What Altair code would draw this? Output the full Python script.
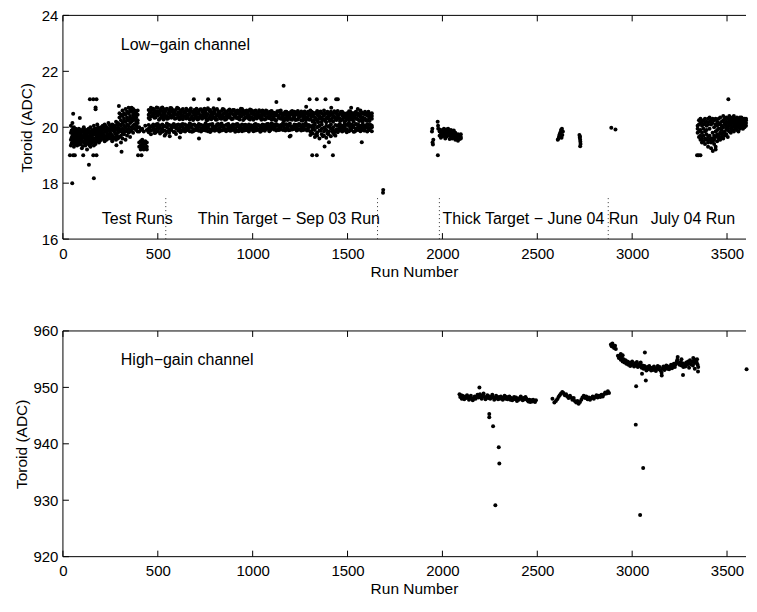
import altair as alt
import pandas as pd

FONT = "Liberation Sans"

# ---------------- axis tick values ----------------
x_ticks = [0, 500, 1000, 1500, 2000, 2500, 3000, 3500]
low_ticks = [16, 18, 20, 22, 24]
high_ticks = [920, 930, 940, 950, 960]

# ---------------- Low-gain channel ----------------
test_run = [42, 50, 58, 66, 75, 84, 92, 100, 110, 118, 127, 136, 145, 154, 163,
            172, 181, 190, 200, 210, 220, 230, 240, 250, 260, 270, 280, 290]
test_adc = [(19.55, 19.8, 20.05, 19.35), (19.7, 19.45, 20.15, 19.9), (19.6, 19.3, 19.85, 20.0),
            (19.75, 19.5, 19.95, 19.4), (19.65, 19.85, 19.35, 19.55), (19.5, 19.8, 19.7, 19.95),
            (19.6, 19.4, 19.9, 19.75), (19.7, 19.55, 19.25, 19.85), (19.8, 19.45, 19.65, 20.0),
            (19.6, 19.35, 19.9, 19.75), (19.55, 19.8, 19.2, 19.7), (19.65, 19.95, 19.4, 19.85),
            (19.75, 19.5, 19.3, 20.0), (19.7, 19.9, 19.45, 19.6), (19.85, 19.55, 19.35, 20.05),
            (19.8, 19.6, 19.95, 19.4), (19.7, 19.9, 19.5, 20.1), (19.85, 19.6, 19.95, 19.45),
            (19.75, 20.0, 19.55, 19.9), (19.8, 19.6, 20.05, 19.7), (19.9, 19.65, 19.5, 20.1),
            (19.85, 19.7, 20.0, 19.55), (19.95, 19.75, 20.15, 19.6), (19.8, 20.05, 19.65, 19.9),
            (19.95, 19.7, 20.1, 19.5), (19.85, 20.05, 19.6, 19.95), (19.9, 20.2, 19.75, 19.55),
            (20.0, 19.8, 20.15, 19.6)]
test_mid_run = [46, 54, 62, 70, 79, 88, 96, 105, 114, 122, 131, 140, 149, 158, 167, 176, 185,
                195, 205, 215, 225, 235, 245, 255, 265, 275, 285]
test_mid_adc = [(19.62, 19.88, 19.42), (19.78, 19.52, 19.97), (19.68, 19.41, 19.83),
                (19.57, 19.93, 19.72), (19.81, 19.46, 19.63), (19.67, 19.38, 19.9),
                (19.84, 19.58, 19.47), (19.63, 19.92, 19.33), (19.72, 19.51, 19.87),
                (19.83, 19.62, 19.44), (19.69, 19.48, 19.92), (19.58, 19.79, 19.36),
                (19.86, 19.64, 19.43), (19.61, 19.81, 19.53), (19.74, 19.95, 19.47),
                (19.66, 19.87, 19.52), (19.78, 19.58, 20.0), (19.88, 19.69, 19.52),
                (19.64, 19.93, 19.81), (19.73, 19.97, 19.58), (19.83, 19.61, 20.04),
                (19.76, 19.94, 19.63), (19.87, 19.68, 20.08), (19.74, 19.97, 19.58),
                (19.89, 20.07, 19.66), (19.78, 19.99, 19.62), (19.93, 19.7, 20.1)]

ramp_run = [298, 306, 314, 322, 330, 338, 346, 354, 362, 370, 378, 386, 394]
ramp_adc = [(20.1, 20.35, 19.85, 19.65, 20.5, 19.95), (20.25, 20.45, 19.9, 19.7, 20.05, 19.45),
            (20.4, 20.15, 20.6, 19.8, 19.95, 19.6), (20.3, 20.5, 20.05, 19.75, 19.9, 20.2),
            (20.45, 20.2, 20.65, 19.85, 20.0, 19.55), (20.35, 20.55, 20.1, 19.9, 19.7, 20.25),
            (20.5, 20.25, 20.7, 19.95, 19.8, 20.05), (20.4, 20.6, 20.15, 19.85, 20.3, 19.65),
            (20.55, 20.3, 20.7, 20.0, 19.9, 20.2), (20.45, 20.65, 20.25, 20.05, 19.8, 20.35),
            (20.5, 20.3, 20.6, 20.1, 19.95, 20.4), (20.35, 20.55, 20.2, 19.9, 20.05, 20.45),
            (20.45, 20.25, 20.6, 20.0, 19.85, 20.15)]

dip_run = [402, 410, 418, 426, 434, 442]
dip_adc = [(19.45, 19.3, 19.85, 20.0), (19.35, 19.5, 19.2, 19.9), (19.4, 19.25, 19.55, 19.95),
           (19.3, 19.45, 19.2, 19.85), (19.4, 19.25, 19.5, 20.05), (19.3, 19.2, 19.45, 19.9)]

thin_run = [452, 464, 476, 488, 500, 512, 524, 536, 548, 560, 572, 584, 596, 608, 620, 632, 644,
            656, 668, 680, 692, 704, 716, 728, 740, 752, 764, 776, 788, 800, 812, 824, 836, 848,
            860, 872, 884, 896, 908, 920, 932, 944, 956, 968, 980, 992, 1004, 1016, 1028, 1040,
            1052, 1064, 1076, 1088, 1100, 1112, 1124, 1136, 1148, 1160, 1172, 1184, 1196, 1208,
            1220, 1232, 1244, 1256, 1268, 1280, 1292, 1304, 1316, 1328, 1340, 1352, 1364, 1376,
            1388, 1400, 1412, 1424, 1436, 1448, 1460, 1472, 1484, 1496, 1508, 1520, 1532, 1544,
            1556, 1568, 1580, 1592, 1604, 1616, 1628]
thin_hi = [(20.45, 20.62, 20.33), (20.55, 20.38, 20.7), (20.4, 20.66, 20.5), (20.58, 20.35, 20.47),
           (20.42, 20.69, 20.55), (20.6, 20.31, 20.48), (20.37, 20.57, 20.71), (20.52, 20.44, 20.64),
           (20.66, 20.4, 20.3), (20.48, 20.61, 20.36), (20.55, 20.34, 20.68), (20.42, 20.58, 20.5),
           (20.63, 20.46, 20.32), (20.38, 20.54, 20.67), (20.5, 20.35, 20.6), (20.44, 20.65, 20.29),
           (20.57, 20.4, 20.52), (20.35, 20.6, 20.45), (20.48, 20.28, 20.62), (20.4, 20.55, 20.33),
           (20.62, 20.45, 20.3), (20.37, 20.52, 20.66), (20.5, 20.3, 20.58), (20.43, 20.64, 20.35),
           (20.56, 20.38, 20.48), (20.33, 20.6, 20.5), (20.47, 20.27, 20.68), (20.55, 20.4, 20.62),
           (20.36, 20.52, 20.45), (20.6, 20.32, 20.5), (20.42, 20.65, 20.28), (20.54, 20.37, 20.47),
           (20.3, 20.58, 20.44), (20.5, 20.35, 20.63), (20.41, 20.56, 20.29), (20.6, 20.45, 20.36),
           (20.33, 20.52, 20.48), (20.47, 20.62, 20.3), (20.55, 20.38, 20.44), (20.36, 20.5, 20.6),
           (20.45, 20.28, 20.57), (20.52, 20.4, 20.65), (20.3, 20.55, 20.46), (20.48, 20.35, 20.6),
           (20.58, 20.42, 20.3), (20.37, 20.5, 20.62), (20.46, 20.27, 20.55), (20.4, 20.6, 20.34),
           (20.52, 20.38, 20.47), (20.33, 20.56, 20.44), (20.5, 20.3, 20.6), (20.42, 20.54, 20.28),
           (20.57, 20.36, 20.48), (20.32, 20.5, 20.43), (20.46, 20.28, 20.58), (20.38, 20.52, 20.3),
           (20.5, 20.25, 20.44), (20.34, 20.55, 20.4), (20.47, 20.3, 20.6), (20.28, 20.5, 20.4),
           (20.45, 20.33, 20.55), (20.38, 20.52, 20.26), (20.5, 20.3, 20.42), (20.27, 20.46, 20.58),
           (20.4, 20.55, 20.32), (20.52, 20.28, 20.45), (20.35, 20.5, 20.4), (20.46, 20.25, 20.56),
           (20.3, 20.42, 20.52), (20.5, 20.36, 20.25), (20.4, 20.55, 20.3), (20.28, 20.47, 20.6),
           (20.42, 20.2, 20.53), (20.35, 20.5, 20.15), (20.45, 20.25, 20.58), (20.3, 20.4, 20.52),
           (20.2, 20.5, 20.35), (20.42, 20.28, 20.6), (20.33, 20.48, 20.18), (20.5, 20.3, 20.4),
           (20.25, 20.45, 20.55), (20.4, 20.2, 20.5), (20.32, 20.52, 20.28), (20.45, 20.35, 20.58),
           (20.3, 20.5, 20.22), (20.42, 20.28, 20.55), (20.35, 20.48, 20.2), (20.5, 20.3, 20.4),
           (20.25, 20.45, 20.57), (20.4, 20.52, 20.3), (20.33, 20.2, 20.48), (20.45, 20.3, 20.55),
           (20.28, 20.42, 20.5), (20.38, 20.25, 20.6), (20.48, 20.35, 20.2), (20.3, 20.45, 20.55),
           (20.42, 20.26, 20.5), (20.35, 20.48, 20.22), (20.4, 20.3, 20.5)]
thin_lo = [(19.95, 20.08, 19.82), (20.02, 19.88, 19.75), (19.9, 20.1, 19.97), (20.05, 19.8, 19.93),
           (19.86, 20.0, 20.12), (19.98, 19.78, 20.06), (20.1, 19.92, 19.84), (19.88, 20.04, 19.7),
           (20.0, 19.85, 20.13), (19.93, 20.08, 19.8), (20.06, 19.9, 19.98), (19.83, 20.02, 20.12),
           (19.96, 19.76, 20.07), (20.1, 19.88, 19.95), (19.9, 20.04, 19.82), (20.0, 19.87, 20.12),
           (19.94, 20.1, 19.85), (20.05, 19.9, 20.0), (19.86, 20.02, 20.13), (19.97, 19.84, 20.08),
           (20.1, 19.92, 19.88), (19.9, 20.05, 19.98), (20.02, 19.87, 20.12), (19.95, 20.08, 19.85),
           (20.06, 19.9, 20.0), (19.88, 20.03, 20.14), (20.0, 19.86, 20.07), (19.93, 20.1, 19.83),
           (20.05, 19.95, 20.12), (19.87, 20.02, 19.98), (20.1, 19.9, 20.04), (19.96, 20.08, 19.85),
           (20.03, 19.88, 20.13), (19.9, 20.05, 19.97), (20.08, 19.93, 19.86), (19.98, 20.12, 20.02),
           (19.87, 20.04, 19.94), (20.06, 19.9, 20.1), (19.95, 20.08, 19.84), (20.02, 19.88, 20.12),
           (19.92, 20.06, 19.98), (20.1, 19.95, 19.86), (19.88, 20.03, 20.08), (20.04, 19.9, 19.97),
           (19.96, 20.1, 19.85), (20.07, 19.92, 20.02), (19.86, 20.05, 19.95), (20.0, 19.88, 20.12),
           (19.93, 20.08, 19.9), (20.05, 19.96, 19.84), (19.9, 20.02, 20.1), (20.08, 19.87, 19.97),
           (19.95, 20.12, 20.03), (20.02, 19.9, 19.86), (19.97, 20.06, 20.14), (20.1, 19.92, 20.0),
           (19.88, 20.04, 20.12), (20.06, 19.95, 19.9), (19.93, 20.08, 20.02), (20.04, 19.9, 20.15),
           (19.96, 20.1, 19.88), (20.08, 19.94, 20.02), (19.9, 20.05, 20.13), (20.02, 19.92, 19.98),
           (19.95, 20.1, 20.05), (20.08, 19.88, 19.97), (19.92, 20.04, 20.12), (20.05, 19.96, 19.88),
           (19.9, 20.1, 20.02), (20.06, 19.93, 20.14), (19.97, 20.08, 19.9), (19.85, 20.02, 19.72),
           (20.05, 19.78, 19.92), (19.9, 19.65, 20.08), (19.8, 20.0, 19.7), (20.05, 19.88, 19.6),
           (19.75, 19.95, 20.1), (19.98, 19.7, 19.85), (19.62, 20.05, 19.9), (19.85, 19.75, 20.02),
           (19.95, 19.68, 20.1), (19.8, 20.0, 19.9), (20.08, 19.85, 19.7), (19.92, 20.05, 19.82),
           (20.0, 19.88, 20.12), (19.85, 20.05, 19.95), (20.1, 19.9, 20.0), (19.93, 20.08, 19.82),
           (20.04, 19.86, 20.15), (19.9, 20.1, 19.98), (20.06, 19.84, 20.0), (19.95, 20.12, 19.88),
           (20.03, 19.9, 20.1), (19.86, 20.05, 19.96), (20.1, 19.92, 20.02), (19.88, 20.06, 19.98),
           (20.0, 19.85, 20.12), (19.93, 20.08, 19.9), (20.05, 19.86, 20.0)]
thin_mid_run = [458, 470, 482, 494, 506, 518, 530, 542, 554, 566, 578, 590, 602, 614, 626, 638,
                650, 662, 674, 686, 698, 710, 722, 734, 746, 758, 770, 782, 794, 806, 818, 830,
                842, 854, 866, 878, 890, 902, 914, 926, 938, 950, 962, 974, 986, 998, 1010, 1022,
                1034, 1046, 1058, 1070, 1082, 1094, 1106, 1118, 1130, 1142, 1154, 1166, 1178,
                1190, 1202, 1214, 1226, 1238, 1250, 1262, 1274, 1286, 1298, 1310, 1322, 1334,
                1346, 1358, 1370, 1382, 1394, 1406, 1418, 1430, 1442, 1454, 1466, 1478, 1490,
                1502, 1514, 1526, 1538, 1550, 1562, 1574, 1586, 1598, 1610, 1622]
thin_mid_adc = [(20.52, 20.29, 19.91), (20.64, 20.43, 20.04), (20.34, 20.57, 19.79),
                (20.49, 20.71, 20.11), (20.27, 20.53, 19.94), (20.68, 20.41, 19.85),
                (20.46, 20.28, 20.03), (20.59, 20.36, 19.76), (20.31, 20.51, 20.09),
                (20.69, 20.44, 19.92), (20.39, 20.62, 20.01), (20.56, 20.3, 19.83),
                (20.45, 20.7, 20.07), (20.29, 20.49, 19.97), (20.61, 20.4, 20.1),
                (20.37, 20.54, 19.88), (20.66, 20.31, 20.02), (20.43, 20.58, 19.93),
                (20.32, 20.67, 20.11), (20.53, 20.26, 19.86), (20.41, 20.59, 20.05),
                (20.28, 20.47, 19.95), (20.63, 20.39, 20.09), (20.3, 20.55, 19.89),
                (20.48, 20.66, 20.0), (20.4, 20.25, 19.94), (20.61, 20.33, 20.08),
                (20.29, 20.46, 19.87), (20.55, 20.68, 20.03), (20.38, 20.27, 19.96),
                (20.58, 20.49, 20.12), (20.42, 20.31, 19.9), (20.65, 20.39, 20.05),
                (20.27, 20.53, 19.93), (20.5, 20.34, 20.1), (20.41, 20.63, 19.88),
                (20.29, 20.57, 20.02), (20.62, 20.42, 19.97), (20.33, 20.48, 20.11),
                (20.56, 20.3, 19.86), (20.39, 20.66, 20.04), (20.6, 20.26, 19.95),
                (20.35, 20.52, 20.09), (20.51, 20.4, 19.89), (20.28, 20.63, 20.03),
                (20.57, 20.34, 19.92), (20.44, 20.58, 20.1), (20.31, 20.5, 19.96),
                (20.61, 20.37, 20.06), (20.4, 20.27, 19.87), (20.55, 20.45, 20.01),
                (20.3, 20.6, 19.94), (20.47, 20.35, 20.12), (20.39, 20.56, 19.9),
                (20.52, 20.3, 20.04), (20.26, 20.45, 19.95), (20.42, 20.57, 20.08),
                (20.58, 20.33, 19.91), (20.36, 20.48, 20.06), (20.49, 20.24, 19.97),
                (20.31, 20.55, 20.11), (20.43, 20.37, 19.89), (20.55, 20.29, 20.03),
                (20.34, 20.51, 19.94), (20.47, 20.26, 20.08), (20.28, 20.58, 19.92),
                (20.52, 20.38, 20.1), (20.4, 20.23, 19.96), (20.56, 20.45, 20.05),
                (20.33, 20.5, 19.88), (20.45, 20.27, 20.07), (20.37, 20.55, 19.8),
                (20.25, 20.46, 19.98), (20.52, 20.3, 19.75), (20.4, 20.18, 20.03),
                (20.56, 20.33, 19.87), (20.29, 20.47, 19.68), (20.5, 20.24, 19.95),
                (20.36, 20.55, 19.78), (20.22, 20.43, 20.05), (20.47, 20.32, 19.86),
                (20.38, 20.57, 19.74), (20.26, 20.5, 19.93), (20.44, 20.33, 20.08),
                (20.55, 20.25, 19.9), (20.37, 20.5, 20.04), (20.23, 20.43, 19.87),
                (20.48, 20.36, 20.12), (20.34, 20.56, 19.95), (20.45, 20.27, 20.07),
                (20.52, 20.38, 19.85), (20.3, 20.47, 20.1), (20.44, 20.22, 19.93),
                (20.35, 20.53, 20.05), (20.5, 20.28, 19.88), (20.24, 20.46, 20.03),
                (20.4, 20.55, 19.96), (20.33, 20.45, 20.08)]

low_x_run = [49, 37, 54, 63, 54, 89, 107, 137, 142, 160, 177, 172, 172, 163, 160, 177, 295, 361,
             309, 282, 396, 414, 563, 616, 717, 690, 765, 823, 1125, 1163, 1300, 1338, 1384,
             1440, 1449, 1314, 1338, 1423, 1379, 1402, 1575, 1554, 1195, 1200, 1282, 1519, 1414,
             1687, 1688]
low_x_adc = [18.0, 19.0, 19.0, 19.0, 20.48, 20.33, 19.0, 18.66, 21.0, 21.0, 21.0, 20.71, 20.64,
             18.18, 19.0, 19.0, 20.76, 20.68, 19.12, 19.36, 19.0, 19.0, 19.68, 19.63, 19.6, 21.0,
             21.0, 21.0, 20.9, 21.48, 21.0, 21.0, 21.0, 21.0, 21.0, 19.0, 19.0, 19.0, 19.31, 19.46,
             19.46, 20.65, 19.67, 19.7, 20.73, 20.7, 20.7, 17.66, 17.76]

thick_col_run = [1985, 1992, 2000, 2008, 2015, 2022, 2030, 2038, 2045, 2052, 2060, 2068, 2075,
                 2082, 2090, 2097]
thick_col_adc = [(19.85, 19.7, 19.92), (19.75, 19.88, 19.62), (19.9, 19.78, 19.68),
                 (19.82, 19.95, 19.7), (19.72, 19.86, 19.6), (19.8, 19.92, 19.67),
                 (19.88, 19.75, 19.95), (19.7, 19.82, 19.58), (19.78, 19.9, 19.66),
                 (19.85, 19.72, 19.6), (19.75, 19.62, 19.88), (19.68, 19.8, 19.55),
                 (19.58, 19.72, 19.65), (19.62, 19.75, 19.52), (19.7, 19.58, 19.66),
                 (19.65, 19.75, 19.6)]
thick_run = [1945, 1947, 1948, 1950, 1952, 1975, 1977, 1978, 1976, 2608, 2612, 2615, 2618, 2622,
             2625, 2630, 2632, 2635, 2628, 2722, 2724, 2726, 2727, 2728, 2726, 2725, 2890, 2912]
thick_adc = [19.85, 19.95, 19.45, 19.38, 19.55, 20.2, 20.05, 19.95, 19.0, 19.55, 19.6, 19.68,
             19.75, 19.82, 19.9, 19.95, 19.72, 19.85, 19.62, 19.72, 19.62, 19.55, 19.48, 19.4,
             19.32, 19.67, 19.98, 19.92]

july_run = [3345, 3352, 3360, 3368, 3376, 3384, 3392, 3400, 3408, 3416, 3424, 3432, 3440, 3448,
            3456, 3464, 3472, 3480, 3488, 3496, 3504, 3512, 3520, 3528, 3536, 3544, 3552, 3560,
            3568, 3576, 3584, 3592, 3600]
july_adc = [(20.05, 19.8, 19.95), (20.1, 19.85, 19.65, 20.25), (19.9, 20.15, 19.7, 20.3, 19.55),
            (20.05, 19.8, 20.2, 19.6, 19.45), (19.95, 20.25, 19.7, 19.5, 20.1),
            (20.15, 19.85, 19.6, 20.3, 19.4), (19.75, 20.05, 19.55, 20.2, 19.9),
            (20.1, 19.65, 19.45, 19.3, 20.3), (19.7, 20.2, 19.55, 19.95, 20.35),
            (20.25, 19.6, 19.45, 20.1, 19.25), (19.8, 20.3, 19.6, 19.5, 20.15),
            (20.0, 19.7, 19.4, 20.25, 19.55), (19.85, 20.1, 19.65, 19.3, 20.3),
            (20.05, 19.75, 19.5, 20.2, 19.9), (19.95, 20.3, 19.7, 19.6, 20.15),
            (20.1, 19.8, 19.55, 20.35, 19.95), (19.9, 20.2, 19.65, 20.05, 19.75),
            (20.25, 20.0, 19.8, 20.4, 19.6), (20.1, 19.85, 20.3, 19.7, 20.15),
            (19.95, 20.2, 20.35, 19.75, 20.05), (20.15, 20.3, 19.9, 20.0, 19.65),
            (20.25, 20.05, 20.4, 19.85, 20.15), (19.95, 20.2, 20.3, 20.1, 19.8),
            (20.15, 20.35, 20.0, 19.9, 20.25), (20.3, 20.05, 20.2, 19.85, 20.4),
            (20.1, 20.3, 19.95, 20.2, 20.0), (20.25, 20.05, 20.35, 19.9, 20.15),
            (20.0, 20.2, 20.3, 20.1, 19.85), (20.15, 20.35, 20.05, 20.25, 19.95),
            (20.3, 20.1, 20.2, 20.0, 20.35), (20.05, 20.25, 20.15, 20.3, 19.95),
            (20.2, 20.1, 20.3, 20.0, 20.25), (20.15, 20.25, 20.05, 20.3)]
july_x_run = [3342, 3350, 3360, 3507, 3425, 3440]
july_x_adc = [19.0, 19.0, 19.0, 21.0, 19.15, 19.2]

sep_run = [542, 1658, 1984, 2874]
sep_lo = [16, 16, 16, 16]
sep_hi = [17.5, 17.5, 17.5, 17.5]
low_note_text = ["Low\u2212gain channel", "Test Runs", "Thin Target \u2212 Sep 03 Run",
                 "Thick Target \u2212 June 04 Run", "July 04 Run"]
low_note_run = [305, 205, 711, 2001, 3098]
low_note_adc = [22.93, 16.72, 16.72, 16.72, 16.72]

# ---------------- High-gain channel ----------------
hg1_run = [2090, 2094, 2098, 2102, 2106, 2110, 2115, 2120, 2125, 2130, 2135, 2140, 2145, 2150,
           2155, 2160, 2165, 2170, 2175, 2180, 2185, 2190, 2195, 2198, 2202, 2207, 2212, 2217,
           2222, 2227, 2232, 2237, 2242, 2247, 2252, 2258, 2263, 2268, 2273, 2278, 2283, 2288,
           2293, 2298, 2303, 2308, 2313, 2318, 2323, 2328, 2333, 2338, 2343, 2348, 2353, 2358,
           2363, 2368, 2373, 2378, 2383, 2388, 2393, 2398, 2403, 2408, 2413, 2418, 2423, 2428,
           2433, 2438, 2443, 2448, 2453, 2458, 2463, 2468, 2473, 2478, 2483, 2488, 2493]
hg1_adc = [948.8, 948.3, 948.6, 948.0, 948.5, 948.2, 947.9, 948.4, 948.1, 948.6, 948.3, 947.8,
           948.2, 948.5, 948.0, 947.7, 948.1, 948.4, 948.0, 948.3, 948.7, 948.2, 950.0, 948.8,
           948.4, 948.0, 948.5, 948.9, 948.3, 947.9, 948.2, 948.6, 948.1, 948.4, 948.0, 948.3,
           948.7, 948.2, 947.8, 948.1, 948.5, 948.2, 947.9, 948.3, 948.0, 948.4, 948.1, 947.8,
           948.2, 948.5, 948.0, 948.3, 947.9, 948.2, 948.4, 947.8, 948.1, 947.7, 948.0, 948.3,
           947.9, 948.2, 947.6, 948.0, 947.8, 948.1, 948.4, 948.0, 947.7, 948.1, 947.9, 948.3,
           948.0, 947.7, 947.5, 947.8, 947.4, 947.7, 947.5, 947.8, 947.6, 947.4, 947.7]
hg2_run = [2580, 2590, 2598, 2605, 2612, 2618, 2625, 2632, 2638, 2645, 2652, 2658, 2665, 2672,
           2678, 2685, 2692, 2698, 2705, 2712, 2718, 2725, 2732, 2738, 2745, 2752, 2758, 2765,
           2772, 2778, 2785, 2792, 2798, 2805, 2812, 2818, 2825, 2832, 2838, 2845, 2852, 2858,
           2865, 2872, 2878]
hg2_adc = [948.0, 947.3, 947.6, 947.9, 948.3, 948.6, 948.9, 949.2, 949.0, 948.6, 948.8, 948.4,
           948.1, 948.5, 948.2, 947.8, 948.1, 947.6, 947.3, 947.6, 947.1, 947.4, 947.8, 948.2,
           948.5, 948.1, 948.4, 947.9, 948.2, 947.8, 948.1, 948.4, 948.0, 948.3, 948.6, 948.2,
           948.5, 948.3, 948.7, 948.4, 948.8, 949.1, 948.9, 949.3, 949.0]
hg3_run = [2888, 2892, 2896, 2900, 2905, 2910, 2914,
           2925, 2930, 2935, 2940, 2945, 2950, 2955, 2960, 2965, 2970,
           2975, 2980, 2985, 2990, 2995, 3000, 3005, 3010, 3015, 3020,
           3025, 3030, 3035, 3040, 3045, 3050, 3055, 3060, 3065, 3070,
           3075, 3080, 3085, 3090, 3095, 3100, 3105, 3110, 3115, 3120,
           3125, 3130, 3135, 3140, 3145, 3150, 3155, 3160, 3165, 3170,
           3175, 3180, 3185, 3190, 3195, 3200, 3205, 3210, 3215, 3220,
           3225, 3230, 3235, 3240, 3245, 3250, 3255, 3260, 3265, 3270,
           3275, 3280, 3285, 3290, 3295, 3300, 3305, 3310, 3315, 3320,
           3325, 3330, 3335, 3340, 3345,
           3238, 3322, 3330, 3342, 3348, 3300, 3260, 2940, 2950]
hg3_adc = [957.6, 957.3, 957.8, 957.2, 957.0, 957.4, 956.8,
           955.6, 955.2, 955.5, 954.9, 955.3, 954.6, 955.0, 954.4, 954.8, 954.2,
           954.6, 954.0, 954.4, 953.8, 954.2, 954.6, 954.0, 953.7, 954.3, 953.9,
           954.5, 953.6, 954.1, 953.8, 954.4, 953.5, 953.9, 953.3, 953.8, 953.4,
           953.0, 953.6, 953.2, 953.8, 953.4, 953.0, 953.5, 953.1, 953.7, 953.3,
           952.9, 953.4, 953.8, 953.2, 953.6, 953.0, 952.6, 953.3, 953.7, 953.1,
           953.5, 953.9, 953.3, 953.7, 953.2, 953.6, 954.0, 953.4, 953.8, 954.2,
           953.6, 954.1, 954.6, 955.4, 954.3, 954.0, 954.5, 953.9, 954.3, 953.6,
           954.1, 953.7, 954.4, 954.0, 954.6, 954.2, 954.8, 954.1, 954.5, 953.9,
           954.7, 954.3, 954.9, 954.4, 954.0,
           954.9, 955.2, 953.3, 955.0, 953.6, 953.5, 955.0, 955.9, 955.7]
hg_x_run = [2247, 2247, 2267, 2297, 2300, 2279, 3021, 3019, 3067, 3072, 3058, 3042, 3156, 3268,
            3347, 3603, 3052]
hg_x_adc = [945.3, 944.7, 943.1, 939.4, 936.5, 929.1, 950.2, 943.4, 956.2, 951.2, 935.7, 927.4,
            952.1, 952.2, 952.8, 953.2, 952.4]
high_note_text = ["High\u2212gain channel"]
high_note_run = [305]
high_note_adc = [954.8]


# ---------------- build tables ----------------
def columns(runs, groups):
    r, v = [], []
    for run, grp in zip(runs, groups):
        for val in grp:
            r.append(run)
            v.append(val)
    return r, v


low_r, low_v = [], []
for runs, groups in [(test_run, test_adc), (test_mid_run, test_mid_adc), (ramp_run, ramp_adc),
                     (dip_run, dip_adc), (thin_run, thin_hi), (thin_run, thin_lo),
                     (thin_mid_run, thin_mid_adc), (thick_col_run, thick_col_adc),
                     (july_run, july_adc)]:
    a, b = columns(runs, groups)
    low_r += a
    low_v += b
low_r += low_x_run + thick_run + july_x_run
low_v += low_x_adc + thick_adc + july_x_adc
low_df = pd.DataFrame({"run": low_r, "adc": low_v})

high_df = pd.DataFrame({"run": hg1_run + hg2_run + hg3_run + hg_x_run,
                        "adc": hg1_adc + hg2_adc + hg3_adc + hg_x_adc})

sep_df = pd.DataFrame({"run": sep_run, "adc": sep_lo, "hi": sep_hi})
low_notes = pd.DataFrame({"run": low_note_run, "adc": low_note_adc, "label": low_note_text})
high_notes = pd.DataFrame({"run": high_note_run, "adc": high_note_adc, "label": high_note_text})

W = 684
XMAX = 3600
TICK = 6


def panel(df, ydom, yticks, notes, title_x, title_y, H, seps=None):
    xs = alt.Scale(domain=[0, XMAX], nice=False, zero=False)
    ys = alt.Scale(domain=ydom, nice=False, zero=False)
    xaxis = alt.Axis(orient="bottom", values=x_ticks, ticks=False, grid=False, domain=False,
                     labelFont=FONT, labelFontSize=15, labelColor="black", labelPadding=7,
                     labelFlush=False, format="d", title="Run Number", titleFont=FONT,
                     titleFontSize=15.5, titleFontWeight="normal", titleColor="black",
                     titleX=351.5, titleY=title_y, titleBaseline="alphabetic",
                     titleAlign="center")
    yaxis = alt.Axis(orient="left", values=yticks, ticks=False, grid=False, domain=False,
                     labelFont=FONT, labelFontSize=15, labelColor="black", labelPadding=5,
                     labelFlush=False, format="d", title="Toroid (ADC)", titleFont=FONT,
                     titleFontSize=15.5, titleFontWeight="normal", titleColor="black",
                     titleX=title_x, titleY=H / 2, titleAngle=270, titleBaseline="middle",
                     titleAlign="center")
    X = alt.X("run:Q", scale=xs, axis=xaxis)
    Y = alt.Y("adc:Q", scale=ys, axis=yaxis)
    pts = alt.Chart(df).mark_circle(size=16, color="black", opacity=1).encode(x=X, y=Y)
    xt = pd.DataFrame({"run": x_ticks})
    yt = pd.DataFrame({"adc": yticks})
    one = pd.DataFrame({"run": [0]})
    bot_ticks = alt.Chart(xt).mark_rule(color="black", strokeWidth=1).encode(
        x=X, y=alt.value(H), y2=alt.value(H - TICK))
    top_ticks = alt.Chart(xt).mark_rule(color="black", strokeWidth=1).encode(
        x=X, y=alt.value(0), y2=alt.value(TICK))
    left_ticks = alt.Chart(yt).mark_rule(color="black", strokeWidth=1).encode(
        y=Y, x=alt.value(0), x2=alt.value(TICK))
    top_line = alt.Chart(one).mark_rule(color="black", strokeWidth=1).encode(
        x=alt.value(0), x2=alt.value(W), y=alt.value(0))
    bottom_line = alt.Chart(one).mark_rule(color="black", strokeWidth=1).encode(
        x=alt.value(0), x2=alt.value(W), y=alt.value(H))
    left_line = alt.Chart(one).mark_rule(color="black", strokeWidth=1).encode(
        x=alt.value(0), y=alt.value(0), y2=alt.value(H))
    txt = alt.Chart(notes).mark_text(align="left", baseline="middle", font=FONT, fontSize=16,
                                     color="black").encode(x=X, y=Y, text="label:N")
    layers = [pts, bot_ticks, top_ticks, left_ticks, top_line, bottom_line, left_line, txt]
    if seps is not None:
        sp = alt.Chart(seps).mark_rule(color="#333333", strokeWidth=1, strokeDash=[1, 3]).encode(
            x=X, y=Y, y2="hi:Q")
        layers.append(sp)
    return alt.layer(*layers).resolve_axis(x="shared", y="shared").properties(
        width=W, height=H,
        view=alt.ViewBackground(stroke="transparent", strokeWidth=0, strokeOpacity=0))


top = panel(low_df, [16, 24], low_ticks, low_notes, -36, 37, 224, sep_df)
bottom = panel(high_df, [920, 960], high_ticks, high_notes, -41, 37, 226)

chart = alt.vconcat(top, bottom, spacing=44).properties(
    padding={"left": 7, "top": 0, "right": 0, "bottom": 0}
).configure_view(stroke=None, strokeWidth=0, strokeOpacity=0)

chart.save("out.html", embed_options={"renderer": "svg", "actions": False})
